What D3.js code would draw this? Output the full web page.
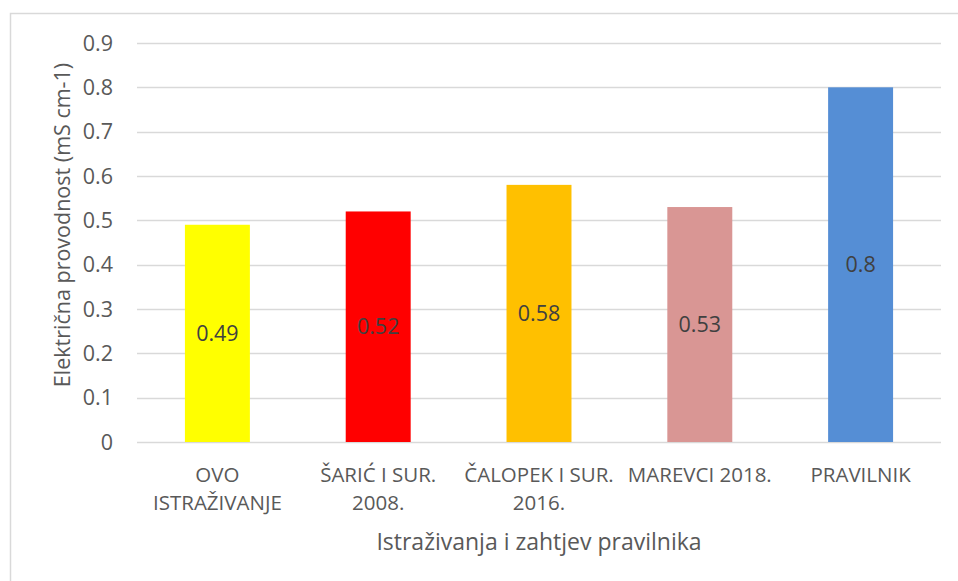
<!DOCTYPE html>
<html>
<head>
<meta charset="utf-8">
<script src="https://cdn.jsdelivr.net/npm/d3@7"></script>
<style>
  body { margin: 0; background: #fff; }
  text { font-family: "Open Sans", sans-serif; }
</style>
</head>
<body>
<div id="chart"></div>
<script>
const categories = [["OVO", "ISTRAŽIVANJE"], ["ŠARIĆ I SUR.", "2008."], ["ČALOPEK I SUR.", "2016."], ["MAREVCI 2018."], ["PRAVILNIK"]]
const values = [0.49, 0.52, 0.58, 0.53, 0.8]
const barColors = ["#ffff00", "#ff0000", "#ffc000", "#d99694", "#558ed5"]
const yTicks = [0, 0.1, 0.2, 0.3, 0.4, 0.5, 0.6, 0.7, 0.8, 0.9]

const width = 958
const height = 581
const margin = {top: 43, left: 137, bottom: 139, right: 17}
const fontSize = "20.5px"
const numSize = "21.5px"

const svg = d3.select("#chart").append("svg")
    .attr("width", width)
    .attr("height", height)

// chart frame
svg.append("rect")
    .attr("x", 10.5).attr("y", 13.5)
    .attr("width", width + 20).attr("height", height + 20)
    .attr("fill", "none")
    .attr("stroke", "#d9d9d9")
    .attr("stroke-width", 1.5)

const x = d3.scaleBand()
    .domain(d3.range(values.length))
    .range([margin.left, width - margin.right])
    .paddingInner(0.596)
    .paddingOuter(0.298)

const y = d3.scaleLinear()
    .domain([0, 0.9])
    .range([height - margin.bottom, margin.top])

// gridlines
svg.append("g")
    .selectAll("line")
    .data(yTicks)
    .enter()
    .append("line")
    .attr("x1", margin.left)
    .attr("x2", width - margin.right)
    .attr("y1", d => Math.round(y(d)) + 0.5)
    .attr("y2", d => Math.round(y(d)) + 0.5)
    .attr("stroke", "#d9d9d9")
    .attr("stroke-width", 1.5)

// y tick labels
svg.append("g")
    .selectAll("text")
    .data(yTicks)
    .enter()
    .append("text")
    .attr("x", 113)
    .attr("y", d => y(d))
    .attr("dy", "0.36em")
    .style("text-anchor", "end")
    .style("font-size", numSize)
    .attr("fill", "#595959")
    .text(d => d3.format("~g")(d))

// bars
svg.append("g")
    .selectAll("rect")
    .data(values)
    .enter()
    .append("rect")
    .attr("x", (d, i) => x(i))
    .attr("y", d => y(d))
    .attr("width", x.bandwidth())
    .attr("height", d => y(0) - y(d))
    .attr("fill", (d, i) => barColors[i])

// value labels in the middle of each bar
svg.append("g")
    .selectAll("text")
    .data(values)
    .enter()
    .append("text")
    .attr("x", (d, i) => x(i) + x.bandwidth() / 2)
    .attr("y", d => (y(d) + y(0)) / 2)
    .attr("dy", "0.36em")
    .style("text-anchor", "middle")
    .style("font-size", numSize)
    .attr("fill", "#404040")
    .text(d => d)

// category labels
const catLabels = svg.append("g")
    .selectAll("text")
    .data(categories)
    .enter()
    .append("text")
    .attr("x", (d, i) => x(i) + x.bandwidth() / 2)
    .attr("y", 482)
    .style("text-anchor", "middle")
    .style("font-size", fontSize)
    .attr("fill", "#595959")

catLabels.selectAll("tspan")
    .data(d => d)
    .enter()
    .append("tspan")
    .attr("x", function() { return d3.select(this.parentNode).attr("x") })
    .attr("dy", (d, i) => i === 0 ? 0 : 28)
    .text(d => d)

// axis titles
svg.append("text")
    .attr("x", (margin.left + width - margin.right) / 2)
    .attr("y", 550)
    .style("text-anchor", "middle")
    .style("font-size", "23px")
    .attr("fill", "#595959")
    .text("Istraživanja i zahtjev pravilnika")

svg.append("text")
    .attr("transform", "translate(70," + 225 + ") rotate(-90)")
    .style("text-anchor", "middle")
    .style("font-size", "21.5px")
    .attr("fill", "#595959")
    .text("Električna provodnost (mS cm-1)")
</script>
</body>
</html>
